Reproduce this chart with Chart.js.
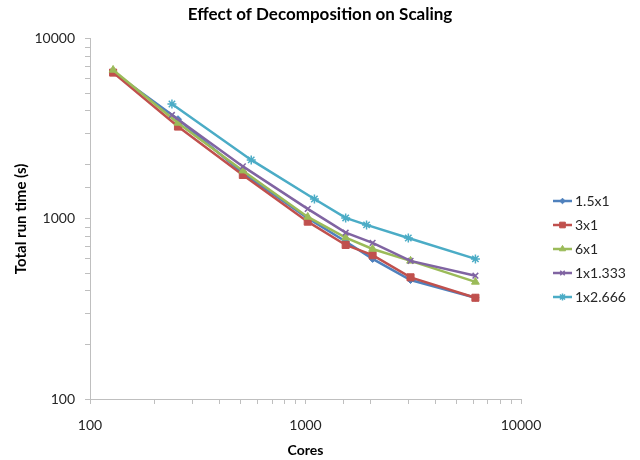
<!DOCTYPE html>
<html>
<head>
<meta charset="utf-8">
<script src="https://cdn.jsdelivr.net/npm/chart.js@4.4.0/dist/chart.umd.min.js"></script>
<style>
  html, body { margin: 0; padding: 0; background: #fff; }
</style>
</head>
<body>
<canvas id="grafico" width="640" height="460"></canvas>
<script>
// Núcleos (eixo x) de cada série
const coresBase = [128, 256, 512, 1024, 1536, 2048, 3072, 6144];
const coresPurple = [240, 512, 1024, 1536, 2048, 3072, 6144];
const coresAqua = [240, 560, 1100, 1536, 1920, 3000, 6144];

// Tempo total (s)
const tempo15x1 = [6550, 3580, 1800, 1010, 750, 600, 458, 365];
const tempo3x1 = [6500, 3260, 1755, 966, 717, 629, 474, 365];
const tempo6x1 = [6725, 3415, 1855, 1026, 787, 681, 585, 447];
const tempo1x1333 = [3780, 1958, 1137, 839, 736, 585, 484];
const tempo1x2666 = [4350, 2128, 1291, 1013, 927, 784, 600];

const nomes = ['1.5x1', '3x1', '6x1', '1x1.333', '1x2.666'];
const tickLabels = [100, 1000, 10000];

const pontos = (xs, ys) => xs.map((x, i) => ({ x, y: ys[i] }));

const serie = (label, xs, ys, cor, estilo, raio, borda, ordem) => ({
  label,
  data: pontos(xs, ys),
  borderColor: cor,
  backgroundColor: cor,
  borderWidth: 2.5,
  pointStyle: estilo,
  pointRadius: raio,
  pointBorderWidth: borda,
  pointBackgroundColor: cor,
  pointBorderColor: cor,
  tension: 0,
  order: ordem
});

const datasets = [
  serie(nomes[0], coresBase, tempo15x1, '#4F81BD', 'rectRot', 3.5, 1, 5),
  serie(nomes[1], coresBase, tempo3x1, '#C0504D', 'rect', 5, 1, 4),
  serie(nomes[2], coresBase, tempo6x1, '#9BBB59', 'triangle', 4.5, 1, 3),
  serie(nomes[3], coresPurple, tempo1x1333, '#8064A2', 'crossRot', 4, 1.5, 2),
  serie(nomes[4], coresAqua, tempo1x2666, '#4BACC6', 'star', 4.5, 1.5, 1)
];

// Legenda desenhada à mão (linha + marcador + texto)
const legenda = {
  id: 'legenda',
  afterDraw(chart) {
    const ctx = chart.ctx;
    chart.data.datasets.forEach((ds, i) => {
      const y = 201 + i * 24;
      ctx.save();
      ctx.strokeStyle = ds.borderColor;
      ctx.lineWidth = 2.5;
      ctx.beginPath();
      ctx.moveTo(553, y);
      ctx.lineTo(572, y);
      ctx.stroke();
      ctx.fillStyle = ds.borderColor;
      ctx.lineWidth = ds.pointBorderWidth;
      Chart.helpers.drawPoint(ctx, {
        pointStyle: ds.pointStyle,
        radius: ds.pointRadius * 0.8,
        rotation: 0,
        borderWidth: ds.pointBorderWidth
      }, 562.5, y);
      ctx.fillStyle = '#262626';
      ctx.font = '14px Lato';
      ctx.textAlign = 'left';
      ctx.textBaseline = 'middle';
      ctx.fillText(ds.label, 575, y);
      ctx.restore();
    });
  }
};

const soPotencias = (v) => {
  const e = Math.log10(v);
  return Math.abs(e - Math.round(e)) < 1e-9 && tickLabels.includes(Math.round(v)) ? String(Math.round(v)) : '';
};

const eixoCor = '#bfbfbf';

const ctx = document.getElementById('grafico').getContext('2d');
new Chart(ctx, {
  type: 'line',
  data: { datasets },
  options: {
    responsive: false,
    animation: false,
    devicePixelRatio: 1,
    layout: { padding: 0 },
    plugins: {
      legend: { display: false },
      tooltip: { enabled: false },
      title: {
        display: true,
        text: 'Effect of Decomposition on Scaling',
        color: '#000',
        font: { family: 'Lato', size: 17, weight: 'bold' },
        padding: { top: 4.5, bottom: 14 }
      }
    },
    scales: {
      x: {
        type: 'logarithmic',
        min: 100,
        max: 10000,
        afterFit: (s) => { s.height = 61; },
        grid: { drawOnChartArea: false, drawTicks: true, tickLength: 5, color: eixoCor },
        border: { display: true, color: eixoCor, width: 1 },
        ticks: {
          autoSkip: false,
          maxRotation: 0,
          padding: 13,
          color: '#262626',
          font: { family: 'Lato', size: 14 },
          callback: soPotencias
        },
        title: {
          display: true,
          text: 'Cores',
          color: '#000',
          font: { family: 'Lato', size: 14, weight: 'bold' },
          padding: { top: 0, bottom: 1.6 }
        }
      },
      y: {
        type: 'logarithmic',
        min: 100,
        max: 10000,
        afterFit: (s) => { s.width = 90; },
        grid: { drawOnChartArea: false, drawTicks: true, tickLength: 5, color: eixoCor },
        border: { display: true, color: eixoCor, width: 1 },
        ticks: {
          autoSkip: false,
          padding: 10,
          color: '#262626',
          font: { family: 'Lato', size: 14 },
          callback: soPotencias
        },
        title: {
          display: true,
          text: 'Total run time (s)',
          color: '#000',
          font: { family: 'Lato', size: 15, weight: 'bold' },
          padding: { top: 12, bottom: 0 }
        }
      },
      // eixo vazio à direita só para reservar o espaço da legenda
      espaco: {
        type: 'linear',
        position: 'right',
        display: true,
        afterFit: (s) => { s.width = 119; },
        grid: { display: false },
        border: { display: false },
        ticks: { display: false }
      }
    }
  },
  plugins: [legenda]
});
</script>
</body>
</html>
